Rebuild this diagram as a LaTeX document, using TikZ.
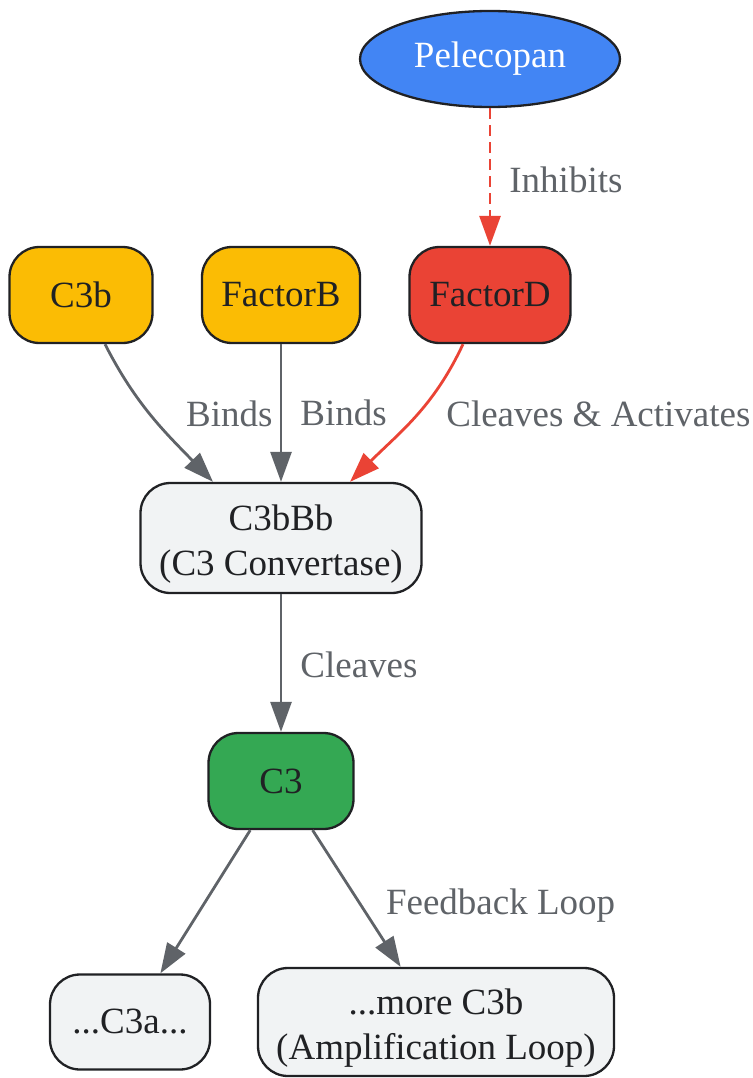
\documentclass[tikz,border=0pt]{standalone}
\usepackage{fontspec}
\setmainfont{Liberation Serif}
\usetikzlibrary{shapes.geometric,arrows.meta}
\definecolor{gblue}{HTML}{4285F4}
\definecolor{gyellow}{HTML}{FBBC04}
\definecolor{gred}{HTML}{EA4335}
\definecolor{ggreen}{HTML}{34A853}
\definecolor{glight}{HTML}{F1F3F4}
\definecolor{gdark}{HTML}{202124}
\definecolor{ggray}{HTML}{5F6368}
\begin{document}
\begin{tikzpicture}[x=1pt, y=1pt, font=\fontsize{37}{45}\selectfont,
  box/.style={draw=gdark, line width=2.3pt, rounded corners=30pt, minimum height=96pt, align=center, text=gdark},
  lbl/.style={text=ggray, inner sep=0pt, anchor=west},
  link/.style={draw=ggray, line width=2.8pt, -{Triangle[length=30pt,width=21pt]}},
  redlink/.style={link, draw=gred}]
\useasboundingbox (0,0) rectangle (752,-1078);
\node [ellipse, draw=gdark, line width=2.3pt, fill=gblue, text=white, minimum width=260pt, minimum height=96pt] (p) at (490,-59) {Pelecopan};
\node [box, fill=gyellow, minimum width=143pt] (b) at (81,-295) {C3b};
\node [box, fill=gyellow, minimum width=158pt] (f) at (281,-295) {FactorB};
\node [box, fill=gred, minimum width=161pt] (d) at (490,-295) {FactorD};
\node [box, fill=glight, minimum width=281pt, minimum height=110pt] (x) at (281,-538) {\rule{0pt}{37pt}C3bBb\\(C3 Convertase)};
\node [box, fill=ggreen, minimum width=145pt] (c) at (281,-781) {C3};
\node [box, fill=glight, minimum width=160pt, minimum height=95pt] (a) at (130,-1022) {...C3a...};
\node [box, fill=glight, minimum width=356pt, minimum height=108pt] (m) at (436,-1022) {\rule{0pt}{37pt}...more C3b\\(Amplification Loop)};
\path
(p) edge [redlink, dash pattern=on 11pt off 6pt] node [lbl, right=18pt, yshift=-3pt] {Inhibits} (d)
([xshift=24pt]b.south) edge [link, out=-63, in=134] node [lbl, right=32pt, yshift=4pt] {Binds} ([xshift=-68pt]x.north)
(f) edge [link] node [lbl, right=18pt] {Binds} (x)
([xshift=-27pt]d.south) edge [redlink, out=-115, in=45] node [lbl, right=31pt, yshift=4pt] {Cleaves \& Activates} ([xshift=69pt]x.north)
(x) edge [link] node [lbl, right=18pt, yshift=-2pt] {Cleaves} (c)
(c) edge [link] (a)
(c) edge [link] node [lbl, right=28pt, yshift=-7pt] {Feedback Loop} (m)
;
\end{tikzpicture}
\end{document}
